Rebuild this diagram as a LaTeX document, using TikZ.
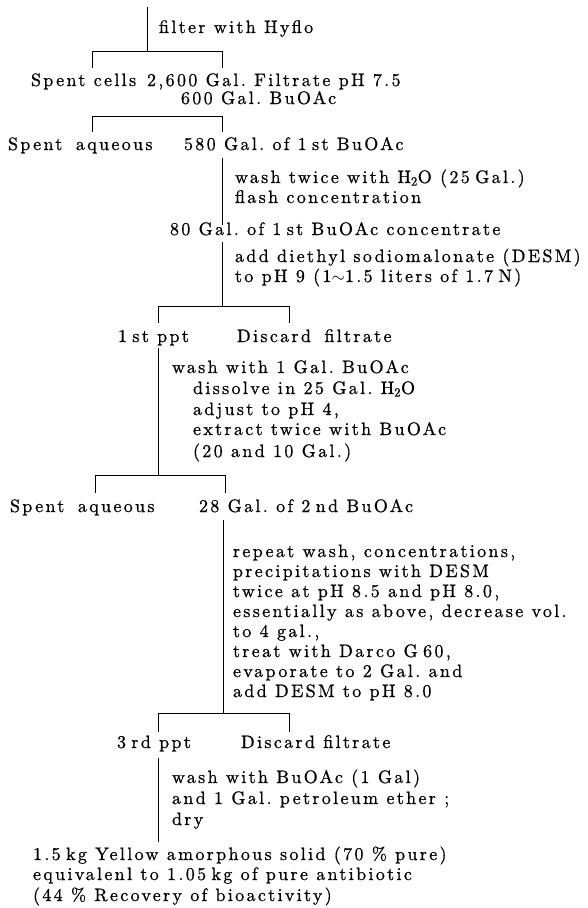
\documentclass[tikz,border=0pt]{standalone}
\usepackage{fontspec}
\setmainfont{lmroman10-regular.otf}[LetterSpace=13, FakeBold=0.8]
\newcommand{\fsz}{\fontsize{18}{20.3}\selectfont}
\newcommand{\tsp}{\hspace{0.3em}}
\newcommand{\wsp}{\hspace{0.75em}}
\newcommand{\st}{\tsp st}
\begin{document}
\begin{tikzpicture}[x=1pt,y=-1pt,
  txt/.style={anchor=base west, inner sep=0pt, outer sep=0pt, font=\fsz},
  ln/.style={line width=0.8pt, line cap=butt}]
\useasboundingbox (0,0) rectangle (587,908);
% step 0
\coordinate (s0) at (147,7);
\coordinate (b1m) at (147,51);
\coordinate (b1l) at (92,51);  \coordinate (b1r) at (222,51);
\coordinate (b1lt) at (92,68); \coordinate (b1rt) at (222,68);
\node[txt] (f1) at (159,33) {filter with Hyflo};
\draw[ln] (s0) -- (b1m);
\draw[ln] (b1lt) -- (b1l) -- (b1r) -- (b1rt);
\node[txt] (cells) at (31,86) {Spent cells};
\node[txt] (filt) at (147,86) {2,600 Gal.\ Filtrate pH 7.5};
\node[txt] (bu600) at (181,104) {600 Gal.\ BuOAc};
% bracket 2
\coordinate (b2l) at (92,116);  \coordinate (b2r) at (222,116);
\coordinate (b2lt) at (92,132); \coordinate (b2rt) at (222,132);
\draw[ln] (b2lt) -- (b2l) -- (b2r) -- (b2rt);
\node[txt] (aq1) at (8,150) {Spent\wsp aqueous};
\node[txt] (bu1) at (184,150) {580 Gal.\ of 1\st{} BuOAc};
\coordinate (v1a) at (222,158); \coordinate (v1b) at (222,225);
\draw[ln] (v1a) -- (v1b);
\node[txt] (w1a) at (235,183) {wash twice with H\textsubscript{2}O (25\tsp Gal.)};
\node[txt] (w1b) at (235,203) {flash concentration};
\node[txt] (conc) at (170,235) {80 Gal.\ of 1\st{} BuOAc concentrate};
\coordinate (v2a) at (222,242); \coordinate (v2b) at (222,306);
\draw[ln] (v2a) -- (v2b);
\node[txt] (d1a) at (235,262) {add diethyl sodiomalonate (DESM)};
\node[txt] (d1b) at (235,282) {to pH 9 (1${\sim}$1.5 liters of 1.7\tsp N)};
% bracket 3
\coordinate (b3l) at (158,306);  \coordinate (b3r) at (289,306);
\coordinate (b3lt) at (158,323); \coordinate (b3rt) at (289,323);
\draw[ln] (b3lt) -- (b3l) -- (b3r) -- (b3rt);
\node[txt] (ppt1) at (118,342) {1\st{} ppt};
\node[txt] (disc1) at (237,342) {Discard\wsp filtrate};
\coordinate (v3a) at (158,348); \coordinate (v3b) at (158,475);
\draw[ln] (v3a) -- (v3b);
\node[txt] (e1) at (172,373) {wash with 1 Gal.\ BuOAc};
\node[txt] (e2) at (193,394) {dissolve in 25 Gal.\ H\textsubscript{2}O};
\node[txt] (e3) at (193,415) {adjust to pH 4,};
\node[txt] (e4) at (193,435) {extract twice with BuOAc};
\node[txt] (e5) at (193,457) {(20 and 10 Gal.)};
% bracket 4
\coordinate (b4l) at (95,475);  \coordinate (b4r) at (225,475);
\coordinate (b4lt) at (95,493); \coordinate (b4rt) at (225,493);
\draw[ln] (b4lt) -- (b4l) -- (b4r) -- (b4rt);
\node[txt] (aq2) at (10,512) {Spent\wsp aqueous};
\node[txt] (bu2) at (199,512) {28 Gal.\ of 2\tsp nd BuOAc};
\coordinate (v4a) at (223,520); \coordinate (v4b) at (223,713);
\draw[ln] (v4a) -- (v4b);
\node[txt] (r1) at (233,557) {repeat wash, concentrations,};
\node[txt] (r2) at (233,577) {precipitations with DESM};
\node[txt] (r3) at (233,597) {twice at pH 8.5 and pH 8.0,};
\node[txt] (r4) at (233,617) {essentially as above, decrease vol.};
\node[txt] (r5) at (233,637) {to 4 gal.,};
\node[txt] (r6) at (233,657) {treat with Darco G\tsp 60,};
\node[txt] (r7) at (233,677) {evaporate to 2 Gal.\ and};
\node[txt] (r8) at (233,697) {add DESM to pH 8.0};
% bracket 5
\coordinate (b5l) at (158,713);  \coordinate (b5r) at (289,713);
\coordinate (b5lt) at (158,732); \coordinate (b5rt) at (289,732);
\draw[ln] (b5lt) -- (b5l) -- (b5r) -- (b5rt);
\node[txt] (ppt3) at (117,748) {3\tsp rd ppt};
\node[txt] (disc3) at (241,748) {Discard filtrate};
\coordinate (v5a) at (158,758); \coordinate (v5b) at (158,842);
\draw[ln] (v5a) -- (v5b);
\node[txt] (g1) at (172,783) {wash with BuOAc (1 Gal)};
\node[txt] (g2) at (172,804) {and 1 Gal.\ petroleum ether ;};
\node[txt] (g3) at (172,825) {dry};
\node[txt] (y1) at (33,860) {1.5\tsp kg Yellow amorphous solid (70 \% pure)};
\node[txt] (y2) at (33,880) {equivalenl to 1.05\tsp kg of pure antibiotic};
\node[txt] (y3) at (33,901) {(44 \% Recovery of bioactivity)};
\end{tikzpicture}
\end{document}
